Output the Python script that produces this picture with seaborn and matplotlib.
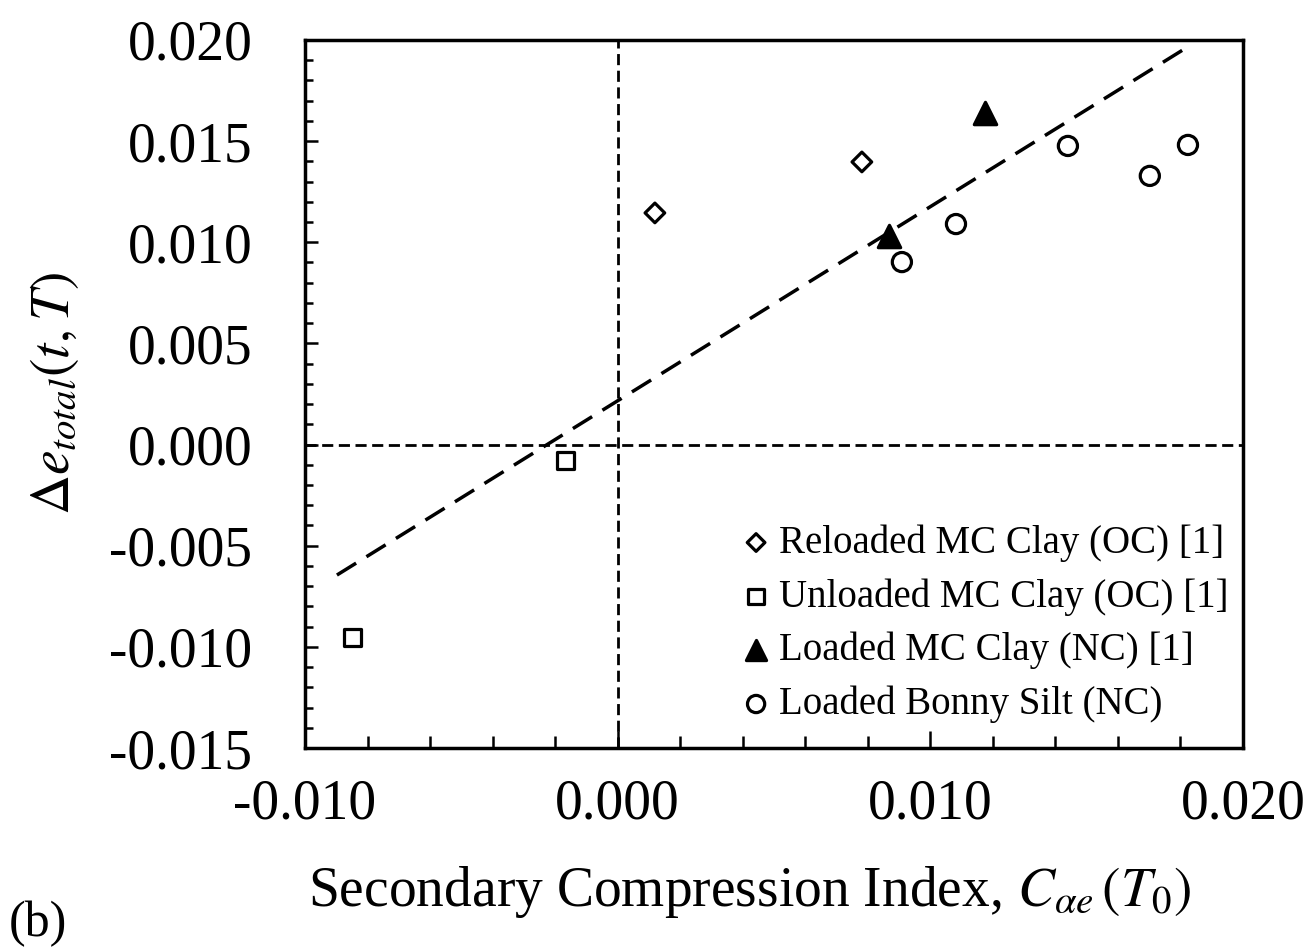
import matplotlib
matplotlib.use("Agg")
import matplotlib.pyplot as plt
import seaborn as sns
import numpy as np
import pandas as pd

# ---- data ----
reloaded_x = [0.00119, 0.00781]
reloaded_y = [0.01145, 0.01397]
unloaded_x = [-0.00168, -0.00847]
unloaded_y = [-0.00081, -0.00952]
loaded_mc_x = [0.00868, 0.01175]
loaded_mc_y = [0.01031, 0.01639]
bonny_x = [0.00909, 0.01082, 0.01440, 0.01702, 0.01824]
bonny_y = [0.00902, 0.01090, 0.01476, 0.01328, 0.01481]
fit_x = [-0.00898, 0.01808]
fit_y = [-0.00645, 0.01951]

labels = ["Reloaded MC Clay (OC) [1]", "Unloaded MC Clay (OC) [1]",
          "Loaded MC Clay (NC) [1]", "Loaded Bonny Silt (NC)"]
x_ticks = [-0.010, 0.000, 0.010, 0.020]
y_ticks = [-0.015, -0.010, -0.005, 0.000, 0.005, 0.010, 0.015, 0.020]

sns.set_theme(style="white")
plt.rcParams["font.family"] = ["Liberation Serif", "DejaVu Serif"]
plt.rcParams["mathtext.fontset"] = "stix"
plt.rcParams["text.color"] = "black"
plt.rcParams["axes.labelcolor"] = "black"
plt.rcParams["xtick.color"] = "black"
plt.rcParams["ytick.color"] = "black"

fig = plt.figure(figsize=(13.12, 9.49), dpi=100)
ax = fig.add_axes([0.2325, 0.2118, 0.7149, 0.7461])

# zero reference lines
ax.axvline(0, color="black", lw=2.0, ls=(0, (4, 2)), zorder=1)
ax.axhline(0, color="black", lw=2.0, ls=(0, (4, 2)), zorder=1)

# fitted trend line
sns.lineplot(x=fit_x, y=fit_y, ax=ax, color="black", lw=2.5,
             linestyle=(0, (6.5, 3.5)), zorder=2)

groups = [
    (reloaded_x, reloaded_y, "D", "none", 100, labels[0]),
    (unloaded_x, unloaded_y, "s", "none", 150, labels[1]),
    (loaded_mc_x, loaded_mc_y, "^", "black", 260, labels[2]),
    (bonny_x, bonny_y, "o", "none", 190, labels[3]),
]
for gx, gy, mk, fc, s, lab in groups:
    sns.scatterplot(x=gx, y=gy, ax=ax, marker=mk, s=s, color="black",
                    facecolor=fc, edgecolor="black", linewidth=2.3,
                    label=lab, zorder=3)

ax.set_xlim(-0.010, 0.020)
ax.set_ylim(-0.015, 0.020)
ax.set_xticks(x_ticks)
ax.set_yticks(y_ticks)
ax.set_xticklabels([f"{v:.3f}" for v in x_ticks])
ax.set_yticklabels([f"{v:.3f}" for v in y_ticks])
ax.set_xticks(np.arange(-0.010, 0.0201, 0.002), minor=True)
ax.set_yticks(np.arange(-0.015, 0.0201, 0.001), minor=True)
ax.tick_params(axis="both", which="both", direction="in", color="black",
               labelcolor="black", bottom=True, left=True, top=False, right=False)
ax.tick_params(axis="both", which="major", width=1.8, labelsize=40)
ax.tick_params(axis="x", which="major", length=12, pad=22)
ax.tick_params(axis="x", which="minor", length=9, width=1.8)
ax.tick_params(axis="y", which="major", length=9, pad=38)
ax.tick_params(axis="y", which="minor", length=6, width=1.8)
for sp in ax.spines.values():
    sp.set_linewidth(2.5)
    sp.set_color("black")
    sp.set_visible(True)

ax.set_xlabel(r"Secondary Compression Index, $C_{\alpha e}\,(T_0)$", fontsize=40,
              labelpad=24, color="black")
ax.xaxis.label.set_x(0.474)
ax.set_ylabel(r"$\Delta e_{total}(t,T)$", fontsize=40, labelpad=20, color="black")

leg = ax.legend(loc="lower right", bbox_to_anchor=(0.985, 0.035), frameon=False,
                fontsize=28, handletextpad=0.1, handlelength=1.0,
                labelspacing=0.42, borderpad=0, borderaxespad=0, markerscale=0.9)

fig.text(0.007, 0.002, "(b)", fontsize=36, ha="left", va="bottom", color="black")

fig.savefig("out.png", dpi=100)
